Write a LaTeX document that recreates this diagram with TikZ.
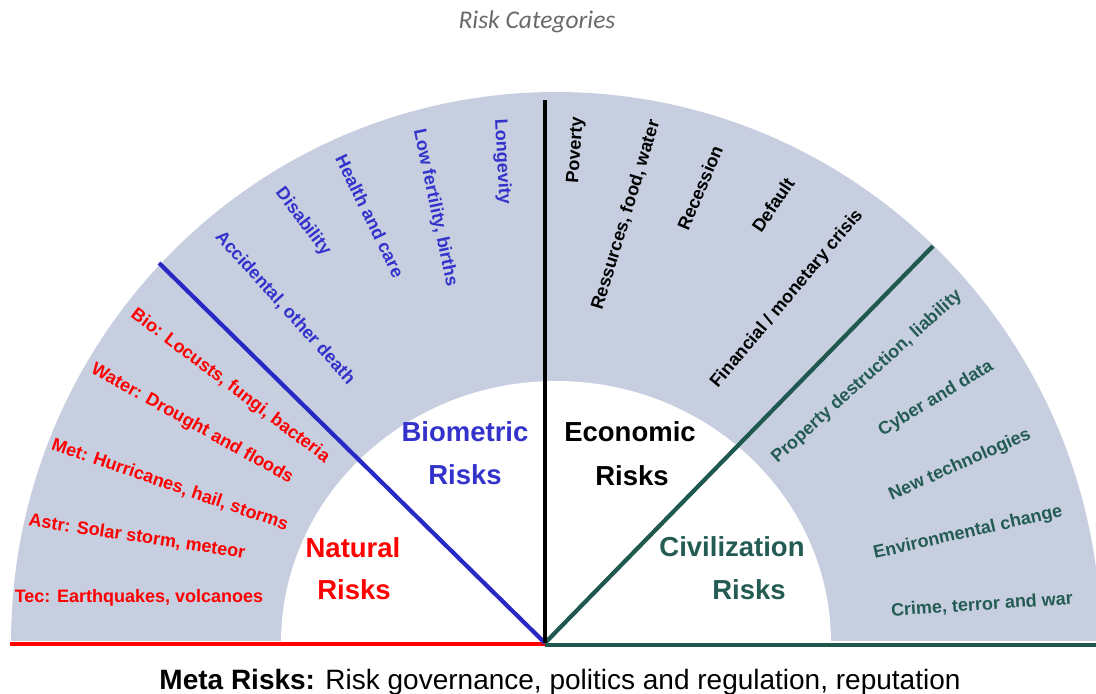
\documentclass[tikz,border=0pt]{standalone}
\usepackage{fontspec}
\setmainfont{Liberation Sans}
\newfontfamily\titlefont{Carlito}
\definecolor{ringgrey}{RGB}{198,206,224}
\definecolor{bioblue}{RGB}{51,51,204}
\definecolor{biolineblue}{RGB}{40,40,196}
\definecolor{natred}{RGB}{255,0,0}
\definecolor{civteal}{RGB}{36,92,84}
\definecolor{civline}{RGB}{31,88,78}
\definecolor{titlegrey}{RGB}{105,105,105}
\tikzset{
  itemlabel/.style={font=\bfseries\fontsize{18}{20}\selectfont, inner sep=0pt, anchor=center},
  biglabel/.style={font=\bfseries\fontsize{27.5}{30}\selectfont, inner sep=0pt, anchor=center},
  divider/.style={line width=4.2pt},
}
\begin{document}
\begin{tikzpicture}[x=1pt,y=-1pt]
\useasboundingbox (0,0) rectangle (1096,694);
% ring
\begin{scope}
  \clip (0,0) rectangle (1096,640);
  \fill[ringgrey] (556,643) ellipse [x radius=545, y radius=551];
  \fill[white] (556,643) ellipse [x radius=275, y radius=262];
\end{scope}
% title
\node[font=\titlefont\itshape\fontsize{25.5}{28}\selectfont, text=titlegrey, inner sep=0pt] (title) at (537,22) {Risk Categories};
% dividers
\coordinate (C) at (545,643);
\coordinate (Bend) at (159,263);
\coordinate (Eend) at (545,100);
\coordinate (Vend) at (933,246);
\coordinate (Lend) at (10,644);
\coordinate (Cl) at (545,644);
\coordinate (Cr) at (545,645);
\coordinate (Rend) at (1096,645);
\draw[divider, natred] (Lend) -- (Cl);
\draw[divider, civline] (Cr) -- (Rend);
\draw[divider, biolineblue] (C) -- (Bend);
\draw[divider, civline] (C) -- (Vend);
\draw[divider, black] (C) -- (Eend);
% natural
\node[itemlabel, text=natred, rotate=-37] (n1) at (230,386) {Bio: Locusts, fungi, bacteria};
\node[itemlabel, text=natred, rotate=-29] (n2) at (192,424) {Water: Drought and floods};
\node[itemlabel, text=natred, rotate=-19] (n3) at (170,485) {Met: Hurricanes, hail, storms};
\node[itemlabel, text=natred, rotate=-8.6] (n4) at (137,537) {Astr: Solar storm, meteor};
\node[itemlabel, text=natred] (n5) at (139,598) {Tec: Earthquakes, volcanoes};
% biometric
\node[itemlabel, text=bioblue, rotate=-87] (b1) at (502,162) {Longevity};
\node[itemlabel, text=bioblue, rotate=-78] (b2) at (435,208) {Low fertility, births};
\node[itemlabel, text=bioblue, rotate=-64] (b3) at (370,216) {Health and care};
\node[itemlabel, text=bioblue, rotate=-53] (b4) at (303,222) {Disability};
\node[itemlabel, text=bioblue, rotate=-48] (b5) at (285,308) {Accidental, other death};
% economic
\node[itemlabel, text=black, rotate=86] (e1) at (576,150) {Poverty};
\node[itemlabel, text=black, rotate=73] (e2) at (626,215) {Ressurces, food, water};
\node[itemlabel, text=black, rotate=67] (e3) at (700,188) {Recession};
\node[itemlabel, text=black, rotate=56] (e4) at (773,205) {Default};
\node[itemlabel, text=black, rotate=50] (e5) at (787,299) {Financial / monetary crisis};
% civilization
\node[itemlabel, text=civteal, rotate=42] (c1) at (867,377) {Property destruction, liability};
\node[itemlabel, text=civteal, rotate=31] (c2) at (936,399) {Cyber and data};
\node[itemlabel, text=civteal, rotate=24] (c3) at (960,465) {New technologies};
\node[itemlabel, text=civteal, rotate=12.7] (c4) at (968,533) {Environmental change};
\node[itemlabel, text=civteal, rotate=3.8] (c5) at (982,605) {Crime, terror and war};
% category labels
\node[biglabel, text=bioblue] (bioA) at (465,432) {Biometric};
\node[biglabel, text=bioblue] (bioB) at (465,475) {Risks};
\node[biglabel, text=black] (ecoA) at (630,432) {Economic};
\node[biglabel, text=black] (ecoB) at (632,476) {Risks};
\node[biglabel, text=natred] (natA) at (353,548) {Natural};
\node[biglabel, text=natred] (natB) at (354,590) {Risks};
\node[biglabel, text=civteal] (civA) at (732,547) {Civilization};
\node[biglabel, text=civteal] (civB) at (749,590) {Risks};
% meta
\node[font=\fontsize{28}{30}\selectfont, inner sep=0pt, anchor=base] (meta) at (560,689) {\textbf{Meta Risks:} Risk governance, politics and regulation, reputation};
\end{tikzpicture}
\end{document}
